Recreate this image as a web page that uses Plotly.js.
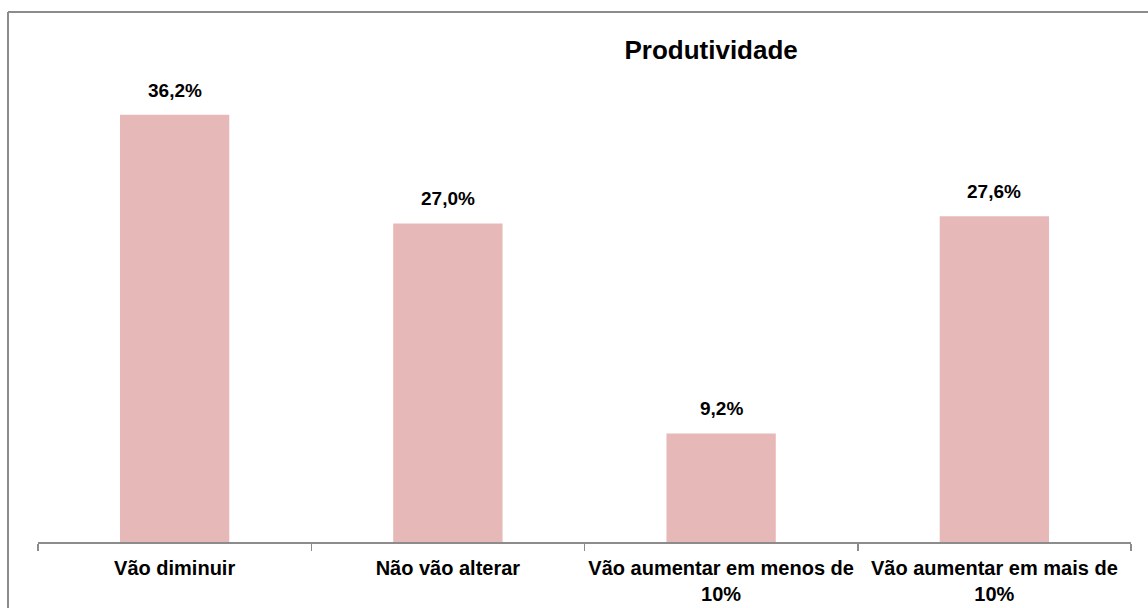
<!DOCTYPE html>
<html>
<head>
<meta charset="utf-8">
<script src="https://cdn.plot.ly/plotly-3.0.1.min.js"></script>
<style>
html,body{margin:0;padding:0;background:#fff;}
#chart{width:1148px;height:608px;}
</style>
</head>
<body>
<div id="chart"></div>
<script>
const categories = ["Vão diminuir", "Não vão alterar", "Vão aumentar em menos de<br>10%", "Vão aumentar em mais de<br>10%"];
const values = [36.2, 27.0, 9.2, 27.6];
const valueLabels = ["36,2%", "27,0%", "9,2%", "27,6%"];
const chartTitle = "Produtividade";

const font = "Liberation Sans, Arial, sans-serif";

const trace = {
  type: "bar",
  x: categories,
  y: values,
  marker: {color: "#E6B8B7", line: {width: 0}},
  hoverinfo: "none"
};

const labelAnnotations = categories.map((c, i) => ({
  x: c, y: values[i], xref: "x", yref: "y",
  text: "<b>" + valueLabels[i] + "</b>",
  showarrow: false,
  xanchor: "center", yanchor: "bottom",
  yshift: 12,
  font: {family: font, size: 19, color: "#000"}
}));

const layout = {
  width: 1148,
  height: 608,
  margin: {l: 38, r: 17, t: 70, b: 66, pad: 0},
  paper_bgcolor: "#fff",
  plot_bgcolor: "#fff",
  bargap: 0.6,
  showlegend: false,
  title: {
    text: "<b>" + chartTitle + "</b>",
    font: {family: font, size: 26, color: "#000"},
    x: 707 / 1148, xref: "paper", xanchor: "center",
    y: 1 - 50 / 608, yref: "container", yanchor: "middle"
  },
  xaxis: {
    type: "category",
    range: [-0.5, 3.5],
    showline: true,
    linecolor: "#8c8c8c",
    linewidth: 1.5,
    ticks: "outside",
    tickson: "boundaries",
    ticklen: 7,
    tickcolor: "#8c8c8c",
    tickwidth: 1.5,
    tickangle: 0,
    ticklabelstandoff: 7,
    tickfont: {family: font, size: 20, color: "#000", weight: "bold"},
    showgrid: false,
    zeroline: false,
    fixedrange: true
  },
  yaxis: {
    range: [0, 40],
    visible: false,
    showgrid: false,
    zeroline: false,
    fixedrange: true
  },
  annotations: labelAnnotations,
  shapes: [
    {type: "line", xref: "paper", yref: "paper",
     x0: (8 - 38) / 1093, x1: (8 - 38) / 1093, y0: (542 - 12) / 472, y1: (542 - 640) / 472,
     line: {color: "#8c8c8c", width: 2}},
    {type: "line", xref: "paper", yref: "paper",
     x0: (8 - 38) / 1093, x1: (1200 - 38) / 1093, y0: (542 - 12) / 472, y1: (542 - 12) / 472,
     line: {color: "#8c8c8c", width: 2}}
  ]
};

Plotly.newPlot("chart", [trace], layout, {displayModeBar: false, staticPlot: true});
</script>
</body>
</html>
